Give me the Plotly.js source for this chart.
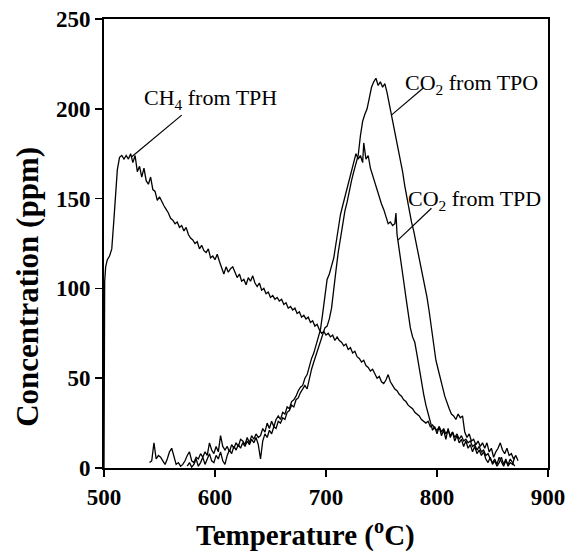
<!DOCTYPE html>
<html>
<head>
<meta charset="utf-8">
<script src="https://cdn.plot.ly/plotly-3.0.1.min.js"></script>
<style>
  html, body { margin: 0; padding: 0; background: #ffffff; }
  #chart { width: 568px; height: 552px; }
</style>
</head>
<body>
<div id="chart"></div>
<script>
// ---------- data ----------
var tphTemp = [500, 500.6, 501.5, 503, 505, 507, 509, 510.5,
  512, 514, 516, 518, 520, 522, 524, 526, 528, 530, 532, 534, 536, 538, 540, 542, 544, 546, 548, 550,
  552, 554, 556, 558, 560, 562, 564, 566, 568, 570, 572, 574, 576, 578, 580, 582, 584, 586, 588, 590,
  592, 594, 596, 598, 600, 602, 604, 606, 608, 610, 612, 614, 616, 618, 620, 622, 624, 626, 628, 630,
  632, 634, 636, 638, 640, 642, 644, 646, 648, 650, 652, 654, 656, 658, 660, 662, 664, 666, 668, 670,
  672, 674, 676, 678, 680, 682, 684, 686, 688, 690, 692, 694, 696, 698, 700, 702, 704, 706, 708, 710,
  712, 714, 716, 718, 720, 722, 724, 726, 728, 730, 732, 734, 736, 738, 740, 742, 744, 746, 748, 750,
  752, 754, 756, 758, 760, 762, 764, 766, 768, 770, 772, 774, 776, 778, 780, 782, 784, 786, 788, 790,
  792, 794, 796, 798, 800, 802, 804, 806, 808, 810, 812, 814, 816, 818, 820, 822, 824, 826, 828, 830,
  832, 834, 836, 838, 840, 842, 844, 846, 848, 850, 852, 854, 856, 858, 860, 862, 864, 866, 868, 870];
var tphConc = [0, 104, 112, 116, 118, 122, 139, 155,
  166, 173, 174, 172, 174, 172, 175, 170, 174, 165, 168, 162, 167, 160, 158, 162, 155, 154, 149, 151,
  148, 146, 144, 142, 139, 138, 136, 137, 134, 135, 132, 134, 130, 128, 127, 125, 126, 122, 124, 121,
  120, 122, 117, 118, 116, 119, 115, 111, 108, 112, 109, 111, 112, 109, 106, 108, 104, 105, 102, 106,
  104, 107, 103, 101, 103, 99, 100, 97, 98, 95, 96, 94, 95, 93, 94, 91, 92, 89, 90, 88,
  89, 86, 87, 84, 85, 83, 84, 81, 82, 79, 80, 77, 75, 76, 74, 75, 73, 74, 71, 73,
  71, 70, 68, 69, 66, 67, 64, 65, 62, 61, 59, 60, 57, 56, 54, 55, 52, 50, 51, 48,
  47, 49, 52, 48, 46, 44, 43, 41, 40, 38, 37, 35, 34, 33, 31, 30, 29, 27, 26, 25,
  26, 23, 24, 22, 21, 23, 20, 22, 19, 21, 18, 20, 17, 19, 16, 18, 15, 16, 14, 15,
  12, 13, 10, 12, 9, 10, 7, 8, 5, 3, 5, 2, 6, 3, 1, 4, 2, 5, 3, 1];

var tpdTemp = [541, 543, 545, 547, 549, 551, 553, 555, 557, 559, 561, 563, 565, 567, 569, 571, 573, 575, 577, 579,
  581, 583, 585, 587, 589, 591, 593, 595, 597, 599, 601, 603, 605, 607, 609, 611, 613, 615, 617, 619,
  621, 623, 625, 627, 629, 631, 633, 635, 637, 639, 641, 643, 645, 647, 649, 651, 653, 655, 657, 659,
  661, 663, 665, 667, 669, 671, 673, 675, 677, 679, 681, 683, 685, 687, 689, 691, 693, 695, 697, 699,
  701, 703, 705, 707, 709, 711, 713, 715, 717, 719, 721, 723, 725, 727, 729, 731, 733, 734, 736, 738,
  740, 742, 744, 746, 748, 750, 752, 754, 756, 758, 760, 762, 763, 764, 766, 768, 770, 772, 774, 776,
  778, 780, 782, 784, 786, 788, 790, 792, 794, 796, 798, 800, 802, 804, 806, 808, 810, 812, 814, 816,
  818, 820, 822, 824, 826, 828, 830, 832, 834, 836, 838, 840, 842, 844, 846, 848, 850, 852, 854, 856,
  858, 860, 862, 864, 866, 868, 870];
var tpdConc = [3, 4, 14, 5, 7, 6, 4, 2, 5, 9, 11, 6, 2, 3, 1, 2, 4, 7, 9, 4,
  3, 6, 5, 8, 6, 9, 7, 14, 10, 8, 12, 9, 18, 12, 10, 12, 9, 13, 11, 14,
  12, 16, 15, 13, 17, 14, 18, 16, 19, 17, 18, 22, 20, 25, 22, 26, 23, 27, 29, 27,
  31, 30, 34, 33, 37, 38, 40, 43, 45, 46, 50, 52, 57, 61, 64, 68, 72, 77, 86, 95,
  105, 108, 113, 117, 125, 133, 141, 146, 151, 155, 160, 166, 171, 175, 172, 174, 170, 181, 172, 174,
  167, 163, 158, 154, 150, 147, 144, 140, 136, 137, 135, 136, 142, 130, 122, 113, 104, 95, 87, 78,
  73, 70, 63, 55, 48, 41, 35, 30, 25, 21, 23, 19, 23, 18, 21, 16, 22, 17, 20, 15,
  18, 14, 16, 12, 15, 11, 13, 9, 12, 8, 10, 7, 9, 5, 3, 6, 2, 4, 1, 3,
  6, 2, 5, 1, 3, 2, 6];

var tpoTemp = [575, 577, 579, 581, 583, 585, 587, 589, 591, 593, 595, 597, 599, 601, 603, 605, 607, 609, 611, 613,
  615, 617, 619, 621, 623, 625, 627, 629, 631, 633, 635, 637, 639, 641, 643, 645, 647, 649, 651, 653,
  655, 657, 659, 661, 663, 665, 667, 669, 671, 673, 675, 677, 679, 681, 683, 685, 687, 689, 691, 693,
  695, 697, 699, 701, 703, 705, 707, 709, 711, 713, 715, 717, 719, 721, 723, 725, 727, 729, 731, 733,
  735, 737, 739, 741, 743, 745, 747, 749, 751, 753, 755, 757, 759, 761, 763, 765, 767, 769, 771, 773,
  775, 777, 779, 781, 783, 785, 787, 789, 791, 793, 795, 797, 799, 801, 803, 805, 807, 809, 811, 813,
  815, 817, 819, 821, 823, 825, 827, 829, 831, 833, 835, 837, 839, 841, 843, 845, 847, 849, 851, 853,
  855, 857, 859, 861, 863, 865, 867, 869, 871, 873];
var tpoConc = [1, 3, 0.5, 2, 5, 1, 3, 6, 2, 5, 8, 4, 3, 7, 5, 9, 4, 2, 7, 10,
  8, 12, 10, 13, 11, 14, 12, 15, 13, 16, 14, 17, 13, 5, 15, 19, 17, 21, 19, 23,
  22, 26, 25, 28, 27, 31, 32, 35, 34, 38, 39, 42, 44, 46, 44, 50, 55, 59, 63, 67,
  71, 75, 78, 79, 83, 89, 98, 110, 120, 128, 136, 143, 148, 155, 160, 165, 170, 174, 185, 193,
  197, 200, 206, 212, 215, 217, 213, 215, 212, 214, 209, 203, 197, 191, 184, 177, 171, 165, 157, 150,
  143, 137, 132, 126, 121, 115, 109, 102, 95, 87, 78, 70, 60, 55, 49, 45, 40, 36, 33, 30,
  29, 27, 30, 28, 29, 20, 17, 19, 15, 16, 13, 15, 12, 14, 11, 14, 9, 11, 6, 9,
  11, 14, 10, 8, 11, 7, 8, 5, 7, 4];

// ---------- labels ----------
var seriesNames = ["CH<sub>4</sub> from TPH", "CO<sub>2</sub> from TPO", "CO<sub>2</sub> from TPD"];
var xTitle = "Temperature (<sup>o</sup>C)";
var yTitle = "Concentration (ppm)";

// ---------- styling / layout ----------
var serif = "Liberation Serif, Times New Roman, serif";
var lineStyle = {color: "#000000", width: 1.3};

var traces = [
  {x: tphTemp, y: tphConc, name: seriesNames[0]},
  {x: tpoTemp, y: tpoConc, name: seriesNames[1]},
  {x: tpdTemp, y: tpdConc, name: seriesNames[2]}
].map(function (t) {
  t.type = "scatter"; t.mode = "lines"; t.line = lineStyle; t.hoverinfo = "skip";
  return t;
});

// label positions (data units): text anchor, and leader-line ends
var labelPos = [
  {tx: 534, ty: 205.5, x0: 570, y0: 196.5, x1: 525, y1: 173.3},
  {tx: 769, ty: 214, x0: 787.4, y0: 211.4, x1: 758.9, y1: 196.5},
  {tx: 772, ty: 149.5, x0: 795, y0: 144.6, x1: 764.8, y1: 126.9}
];

var annotations = labelPos.map(function (p, i) {
  return {x: p.tx, y: p.ty, xref: "x", yref: "y", text: seriesNames[i], showarrow: false,
    xanchor: "left", yanchor: "middle",
    font: {family: serif, size: 22, color: "#000000"}};
});
// axis titles (placed as in the reference, which sits off-centre)
annotations.push({x: 0.453, y: -0.145, xref: "paper", yref: "paper", text: xTitle, showarrow: false,
  xanchor: "center", yanchor: "middle",
  font: {family: serif, size: 29, color: "#000000", weight: "bold"}});
annotations.push({x: -0.173, y: 0.404, xref: "paper", yref: "paper", text: yTitle, showarrow: false,
  xanchor: "center", yanchor: "middle", textangle: -90,
  font: {family: serif, size: 31, color: "#000000", weight: "bold"}});

var shapes = labelPos.map(function (p) {
  return {type: "line", xref: "x", yref: "y", x0: p.x0, y0: p.y0, x1: p.x1, y1: p.y1,
    line: {color: "#000000", width: 1.2}};
});

var axisCommon = {
  showgrid: false, zeroline: false, showline: true, linecolor: "#000000", linewidth: 2,
  mirror: true, ticks: "outside", ticklen: 7, tickwidth: 1.5, tickcolor: "#000000",
  tickfont: {family: serif, size: 23, color: "#000000", weight: "bold"}
};

var layout = {
  width: 568, height: 552,
  margin: {l: 104, r: 20, t: 19, b: 84},
  paper_bgcolor: "#ffffff", plot_bgcolor: "#ffffff",
  showlegend: false,
  xaxis: Object.assign({}, axisCommon, {
    range: [500, 900], tickmode: "linear", tick0: 500, dtick: 100
  }),
  yaxis: Object.assign({}, axisCommon, {
    range: [0, 250], tickmode: "linear", tick0: 0, dtick: 50
  }),
  annotations: annotations,
  shapes: shapes
};

Plotly.newPlot("chart", traces, layout, {displayModeBar: false, staticPlot: true});
</script>
</body>
</html>
